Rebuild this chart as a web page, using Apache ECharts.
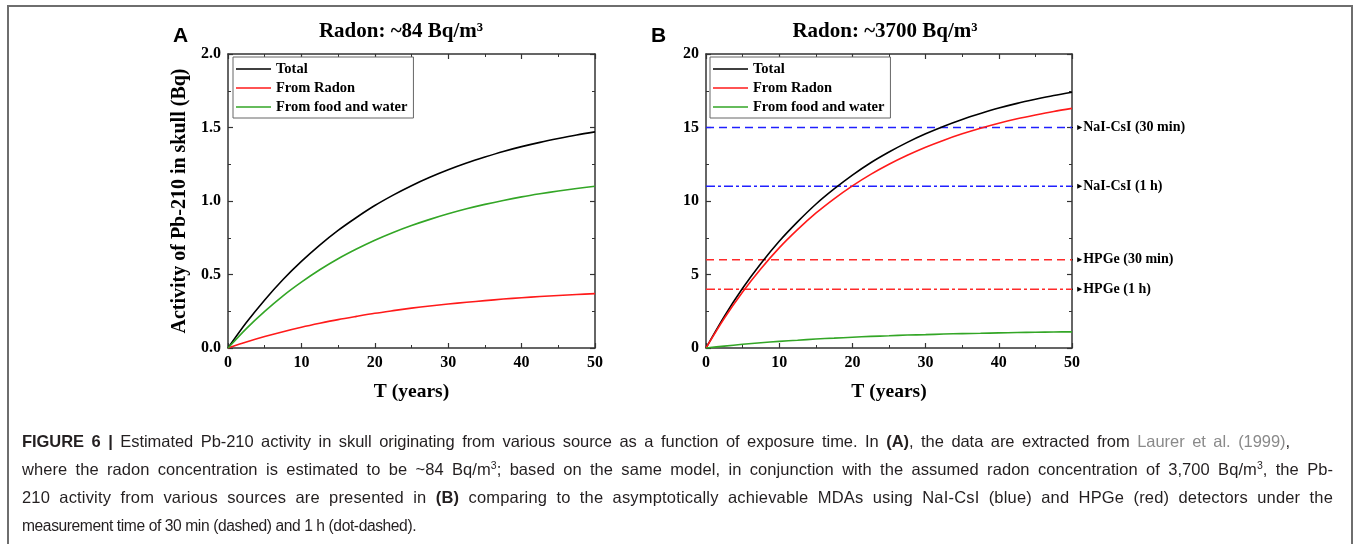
<!DOCTYPE html>
<html><head><meta charset="utf-8">
<script src="https://cdn.jsdelivr.net/npm/echarts@6/dist/echarts.min.js"></script>
<style>
html,body{margin:0;padding:0;background:#fff;}
#wrap{position:relative;width:1356px;height:544px;overflow:hidden;background:#fff;}
#chart{position:absolute;left:0;top:0;width:1356px;height:544px;}
#frame{position:absolute;left:7px;top:5px;width:1346px;height:620px;border:2px solid #6e6e6e;box-sizing:border-box;pointer-events:none;}
#caption{position:absolute;left:22px;top:427px;font-family:'Liberation Sans',Arial,sans-serif;font-size:16.5px;line-height:28px;color:#231f20;letter-spacing:-0.83px;}
.ln{white-space:nowrap;display:block;height:28px;}
.ln span.in{display:inline-block;white-space:nowrap;}
.ln span.last{font-size:15.6px;letter-spacing:-0.4px;}
sup{font-size:10.5px;line-height:0;vertical-align:6px;}
.ref{color:#8a8a8a;}
</style>
</head><body>
<div id="wrap">
<div id="chart"></div>
<div id="frame"></div>
<div id="caption">
<div class="ln"><span class="in" data-w="1268" data-f="0.6"><b>FIGURE 6 |</b> Estimated Pb-210 activity in skull originating from various source as a function of exposure time. In <b>(A)</b>, the data are extracted from <span class="ref">Laurer et al. (1999)</span>,</span></div>
<div class="ln"><span class="in" data-w="1311" data-f="0.6">where the radon concentration is estimated to be ~84 Bq/m<sup>3</sup>; based on the same model, in conjunction with the assumed radon concentration of 3,700 Bq/m<sup>3</sup>, the Pb-</span></div>
<div class="ln"><span class="in" data-w="1311" data-f="0.6">210 activity from various sources are presented in <b>(B)</b> comparing to the asymptotically achievable MDAs using NaI-CsI (blue) and HPGe (red) detectors under the</span></div>
<div class="ln"><span class="in last">measurement time of 30 min (dashed) and 1 h (dot-dashed).</span></div>
</div>
</div>
<script>
// ---- data ----
const years = [0,2.5,5,7.5,10,12.5,15,17.5,20,22.5,25,27.5,30,32.5,35,37.5,40,42.5,45,47.5,50];
const aTotal = [0,0.173,0.327,0.466,0.589,0.700,0.800,0.888,0.969,1.040,1.104,1.161,1.212,1.258,1.299,1.337,1.370,1.399,1.425,1.449,1.470];
const aRadon = [0,0.041,0.078,0.111,0.141,0.168,0.193,0.215,0.236,0.254,0.271,0.286,0.299,0.311,0.322,0.333,0.342,0.350,0.357,0.364,0.370];
const aFood  = [0,0.132,0.249,0.355,0.448,0.532,0.607,0.673,0.733,0.786,0.833,0.875,0.913,0.947,0.977,1.004,1.028,1.049,1.068,1.085,1.100];
const bTotal = [0,2.15,4.06,5.75,7.26,8.58,9.78,10.82,11.76,12.60,13.33,13.99,14.57,15.09,15.55,15.95,16.32,16.64,16.92,17.18,17.40];
const bRadon = [0,2.02,3.81,5.39,6.81,8.05,9.17,10.15,11.03,11.81,12.50,13.11,13.66,14.14,14.57,14.95,15.29,15.59,15.85,16.09,16.30];
const bFood  = [0,0.13,0.25,0.36,0.45,0.53,0.61,0.67,0.73,0.79,0.83,0.88,0.91,0.95,0.98,1.00,1.03,1.05,1.07,1.09,1.10];
const mdaValues = [15, 11, 6, 4];
const mdaLabels = ['NaI-CsI (30 min)', 'NaI-CsI (1 h)', 'HPGe (30 min)', 'HPGe (1 h)'];
const seriesNames = ['Total', 'From Radon', 'From food and water'];
const titleA = 'Radon: ~84 Bq/m\u00b3';
const titleB = 'Radon: ~3700 Bq/m\u00b3';
const xTicks = [0, 50, 10];   // min, max, interval
const yTicksA = [0, 2, 0.5];
const yTicksB = [0, 20, 5];

// ---- styles ----
const serif = "'Liberation Serif','Times New Roman',serif";
const axisColor = '#333';
const colors = ['#000000', '#ff1a1a', '#33a626'];
const mdaColors = ['#2020ff', '#2020ff', '#ff2a2a', '#ff2a2a'];
const dashed = [8, 5];
const dashDot = [9, 3, 3, 3];
const mdaTypes = [dashed, dashDot, dashed, dashDot];

function pair(xs, ys) { return xs.map((x, i) => [x, ys[i]]); }

function xAx(gi, pos, labels) {
  return {
    type: 'value', gridIndex: gi, position: pos, min: xTicks[0], max: xTicks[1], interval: xTicks[2],
    axisLine: {show: true, onZero: false, lineStyle: {color: axisColor, width: 1.5}},
    axisTick: {show: true, inside: true, length: 5, lineStyle: {color: axisColor, width: 1.2}},
    minorTick: {show: true, splitNumber: 2, length: 3, lineStyle: {color: axisColor, width: 1}},
    splitLine: {show: false}, minorSplitLine: {show: false},
    axisLabel: {show: labels, margin: 7, fontFamily: serif, fontWeight: 'bold', fontSize: 16, color: '#000'},
    name: labels ? 'T (years)' : '', nameLocation: 'middle', nameGap: 34,
    nameTextStyle: {fontFamily: serif, fontWeight: 'bold', fontSize: 19.5, color: '#000'}
  };
}
function yAx(gi, pos, labels, ticks, fmt, name) {
  return {
    type: 'value', gridIndex: gi, position: pos, min: ticks[0], max: ticks[1], interval: ticks[2],
    axisLine: {show: true, onZero: false, lineStyle: {color: axisColor, width: 1.5}},
    axisTick: {show: true, inside: true, length: 5, lineStyle: {color: axisColor, width: 1.2}},
    minorTick: {show: true, splitNumber: 2, length: 3, lineStyle: {color: axisColor, width: 1}},
    splitLine: {show: false}, minorSplitLine: {show: false},
    axisLabel: {show: labels, margin: 7, fontFamily: serif, fontWeight: 'bold', fontSize: 16, color: '#000', formatter: fmt},
    name: name || '', nameLocation: 'middle', nameGap: 38, nameRotate: 90,
    nameTextStyle: {fontFamily: serif, fontWeight: 'bold', fontSize: 20, color: '#000'}
  };
}

function curve(name, xi, yi, data, color) {
  return {
    name, type: 'line', xAxisIndex: xi, yAxisIndex: yi, data: pair(years, data),
    smooth: 0.3, symbol: 'none', showSymbol: false, animation: false,
    lineStyle: {color, width: 1.6}, itemStyle: {color}, z: 5
  };
}

const series = [
  curve(seriesNames[0], 0, 0, aTotal, colors[0]),
  curve(seriesNames[1], 0, 0, aRadon, colors[1]),
  curve(seriesNames[2], 0, 0, aFood, colors[2]),
  curve(seriesNames[0], 2, 2, bTotal, colors[0]),
  curve(seriesNames[1], 2, 2, bRadon, colors[1]),
  curve(seriesNames[2], 2, 2, bFood, colors[2])
];
mdaValues.forEach((v, i) => {
  series.push({
    name: 'mda' + i, type: 'line', xAxisIndex: 2, yAxisIndex: 2,
    data: [[xTicks[0], v], [xTicks[1], v]], symbol: 'none', animation: false, silent: true,
    lineStyle: {color: mdaColors[i], width: 1.5, type: mdaTypes[i]}, z: 3
  });
  series.push({
    name: 'arrow' + i, type: 'line', xAxisIndex: 2, yAxisIndex: 2, clip: false,
    data: [{value: [xTicks[1], v], symbol: 'none'},
           {value: [xTicks[1] + 1.05, v], symbol: 'triangle', symbolSize: [5, 5], symbolRotate: -90,
            label: {show: true, position: 'right', distance: 1, formatter: mdaLabels[i],
              fontFamily: serif, fontWeight: 'bold', fontSize: 14, color: '#000'}}],
    showSymbol: true, animation: false, silent: true,
    lineStyle: {color: '#000', width: 1}, itemStyle: {color: '#000'}
  });
});

function legend(left) {
  return {
    left, top: 57, orient: 'vertical',
    data: seriesNames.map((n, i) => ({name: n, icon: 'rect', itemStyle: {color: colors[i]}})),
    backgroundColor: '#fff', borderColor: '#666', borderWidth: 1,
    padding: [4, 6, 3, 3], itemGap: 3, itemWidth: 35, itemHeight: 1.6,
    textStyle: {fontFamily: serif, fontWeight: 'bold', fontSize: 14.5, color: '#000', lineHeight: 16},
    selectedMode: false
  };
}

const option = {
  backgroundColor: '#fff',
  animation: false,
  title: [
    {text: titleA, left: 396, top: 16, textAlign: 'center',
     textStyle: {fontFamily: serif, fontWeight: 'bold', fontSize: 21, color: '#000'}},
    {text: titleB, left: 880, top: 16, textAlign: 'center',
     textStyle: {fontFamily: serif, fontWeight: 'bold', fontSize: 21, color: '#000'}},
    {text: 'A', left: 168, top: 21,
     textStyle: {fontFamily: "'Liberation Sans',Arial,sans-serif", fontWeight: 'bold', fontSize: 21, color: '#000'}},
    {text: 'B', left: 646, top: 21,
     textStyle: {fontFamily: "'Liberation Sans',Arial,sans-serif", fontWeight: 'bold', fontSize: 21, color: '#000'}}
  ],
  legend: [legend(233), legend(710)],
  grid: [
    {left: 228, top: 54, width: 367, height: 294, containLabel: false},
    {left: 706, top: 54, width: 366, height: 294, containLabel: false}
  ],
  xAxis: [xAx(0, 'bottom', true), xAx(0, 'top', false), xAx(1, 'bottom', true), xAx(1, 'top', false)],
  yAxis: [
    yAx(0, 'left', true, yTicksA, v => v.toFixed(1), 'Activity of Pb-210 in skull (Bq)'),
    yAx(0, 'right', false, yTicksA, null),
    yAx(1, 'left', true, yTicksB, v => String(v)),
    yAx(1, 'right', false, yTicksB, null)
  ],
  series
};

const chart = echarts.init(document.getElementById('chart'), null, {renderer: 'canvas'});
chart.setOption(option);

// justify caption lines to their target widths (mix of letter and word spacing)
document.querySelectorAll('#caption .in').forEach(el => {
  const target = parseFloat(el.getAttribute('data-w'));
  if (!target) return;
  const f = parseFloat(el.getAttribute('data-f') || '0.5');
  const w = el.getBoundingClientRect().width;
  const txt = el.textContent;
  const spaces = (txt.match(/ /g) || []).length;
  const chars = txt.length;
  const extra = target - w;
  el.style.letterSpacing = (-0.83 + extra * f / chars) + 'px';
  const w2 = el.getBoundingClientRect().width;
  el.style.wordSpacing = ((target - w2) / spaces) + 'px';
});
</script>
</body></html>
